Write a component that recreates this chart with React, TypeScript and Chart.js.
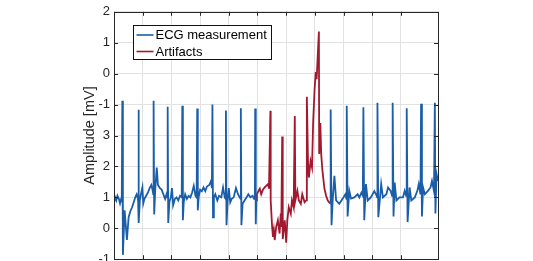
import React, { useEffect, useRef } from "react";
import { Chart, registerables } from "chart.js";

Chart.register(...registerables);

// Time axis (grid step = 1 unit), values in mV on the lower label scale
const ecgTime = [
  0.0, 0.04, 0.08, 0.12, 0.17, 0.21, 0.25, 0.27, 0.29, 0.31, 0.37, 0.45, 0.51, 0.57, 0.63, 0.69, 0.74, 0.79, 0.82, 0.84,
  0.85, 0.87, 0.9, 0.94, 0.99, 1.02, 1.06, 1.12, 1.18, 1.24, 1.3, 1.34, 1.37, 1.38, 1.4, 1.44, 1.49, 1.53, 1.6, 1.66,
  1.72, 1.78, 1.83, 1.86, 1.87, 1.89, 1.93, 1.98, 2.02, 2.06, 2.12, 2.18, 2.24, 2.3, 2.36, 2.38, 2.4, 2.43, 2.48, 2.54,
  2.6, 2.66, 2.72, 2.78, 2.84, 2.88, 2.9, 2.92, 2.95, 3.0, 3.06, 3.12, 3.18, 3.24, 3.32, 3.38, 3.41, 3.43, 3.45, 3.48,
  3.53, 3.6, 3.66, 3.74, 3.8, 3.86, 3.89, 3.9, 3.92, 3.96, 4.0, 4.05, 4.1, 4.17, 4.25, 4.32, 4.38, 4.41, 4.42, 4.44,
  4.48, 4.55, 4.62, 4.68, 4.75, 4.83, 4.88, 4.91, 4.92, 4.94, 4.96,
  5.5,
  7.53, 7.55, 7.58, 7.62, 7.68, 7.74, 7.85, 7.97, 8.06, 8.1, 8.11, 8.14, 8.2, 8.26, 8.37, 8.49, 8.55, 8.62, 8.67, 8.69,
  8.72, 8.78, 8.84, 8.95, 9.07, 9.13, 9.17, 9.18, 9.21, 9.31, 9.37, 9.49, 9.55, 9.64, 9.69, 9.71, 9.74, 9.78, 9.84, 9.95,
  10.07, 10.13, 10.18, 10.2, 10.23, 10.3, 10.36, 10.48, 10.57, 10.62, 10.68, 10.7, 10.73, 10.77, 10.83, 10.94, 11.03, 11.08, 11.15, 11.18,
  11.2, 11.24, 11.29,
];
const ecgValue = [
  0.85, 1.0, 0.9, 1.05, 0.95, 0.8, 0.95, 0.85, 4.12, -0.86, 0.58, -0.38, 0.36, 0.55, 0.68, 0.85, 1.0, 1.1, 1.0, 0.9,
  3.83, 0.17, 0.9, 1.1, 1.32, 0.8, 0.95, 1.05, 1.15, 1.3, 1.4, 1.25, 1.1, 4.12, 0.45, 1.3, 1.96, 1.4, 1.3, 1.25,
  1.1, 0.95, 1.1, 1.0, 3.93, 0.17, 0.85, 1.0, 1.3, 0.75, 0.95, 1.0, 0.9, 1.05, 1.0, 3.96, 0.26, 0.85, 1.1, 0.95,
  1.05, 1.0, 1.15, 1.37, 1.05, 1.0, 3.87, 0.58, 1.0, 1.25, 1.2, 1.32, 1.2, 1.35, 1.4, 1.53, 1.3, 4.0, 0.35, 1.0,
  1.1, 0.9, 1.05, 1.0, 1.32, 1.0, 0.95, 3.81, 0.1, 0.9, 1.3, 0.84, 0.95, 1.0, 1.3, 1.1, 1.0, 0.95, 3.88, 0.1,
  0.79, 0.9, 1.0, 1.1, 1.0, 1.05, 0.95, 1.0, 3.87, 0.13, 0.9,
  null,
  0.8, 3.84, 0.1, 0.9, 1.7, 0.9, 0.79, 0.96, 1.1, 0.95, 3.96, 0.38, 1.21, 0.96, 1.0, 1.1, 1.0, 1.15, 1.05, 3.91,
  0.26, 1.43, 0.9, 1.0, 1.2, 1.1, 1.0, 4.06, 0.36, 1.43, 1.0, 1.1, 1.32, 1.21, 1.05, 4.06, 0.38, 1.48, 0.9, 1.0,
  1.0, 1.21, 1.05, 3.88, 0.2, 1.32, 0.9, 1.0, 1.21, 1.43, 1.1, 4.03, 0.38, 1.32, 1.1, 1.21, 1.32, 1.53, 1.2, 4.06,
  0.48, 1.75, 1.53,
];

const artTime = [
  4.96, 4.98, 5.03, 5.08, 5.13, 5.19, 5.25, 5.31, 5.37, 5.4, 5.45, 5.46, 5.51, 5.54, 5.57, 5.6, 5.65, 5.71, 5.77, 5.81,
  5.83, 5.86, 5.88, 5.9, 5.95, 6.0, 6.04, 6.09, 6.16, 6.2, 6.26, 6.3, 6.32, 6.39, 6.44, 6.51, 6.56, 6.64, 6.7, 6.72,
  6.76, 6.79, 6.85, 6.9, 6.94, 6.99, 7.03, 7.06, 7.14, 7.15, 7.19, 7.22, 7.26, 7.33, 7.39, 7.45, 7.53,
];
const artValue = [
  0.9, 1.1, 1.2, 1.28, 1.1, 1.25, 1.32, 1.38, 1.43, 1.28, 3.8, 0.9, 0.04, -0.28, -0.06, -0.38, 0.04, 0.26, -0.17, 0.48,
  0.04, 2.97, -0.35, -0.17, 0.26, -0.47, 0.26, 0.68, 0.47, 0.9, 0.68, 3.63, 0.9, 1.21, 0.9, 0.79, 1.1, 0.84, 0.9, 4.25,
  2.17, 1.64, 2.17, 1.96, 3.45, 4.5, 5.05, 4.82, 6.36, 2.4, 3.4, 2.4, 1.9, 1.3, 1.05, 0.9, 0.8,
];

// Y tick labels as printed on the axis, bottom to top
const yTickLabels = ["-1", "0", "1", "2", "3", "-1", "0", "1", "2"];
const yMin = -1;
const yMax = 7;
const xMin = 0;
const xMax = 11.29;

const seriesNames = ["ECG measurement", "Artifacts"];
const seriesColors = ["#1a5da8", "#a2192f"];

const FONT = "'Liberation Sans', Arial, Helvetica, sans-serif";
const AXIS_COLOR = "#262626";

const framePlugin = {
  id: "frameTicks",
  afterDraw(chart: any) {
    const { ctx, chartArea } = chart;
    const { left, right, top, bottom } = chartArea;
    ctx.save();
    ctx.strokeStyle = AXIS_COLOR;
    ctx.lineWidth = 1;
    const xs = chart.scales.x;
    const ys = chart.scales.y;
    const tl = 4;
    ctx.beginPath();
    xs.ticks.forEach((t: any) => {
      const px = Math.round(xs.getPixelForValue(t.value)) + 0.5;
      ctx.moveTo(px, bottom);
      ctx.lineTo(px, bottom - tl);
      ctx.moveTo(px, top);
      ctx.lineTo(px, top + tl);
    });
    ys.ticks.forEach((t: any) => {
      const py = Math.round(ys.getPixelForValue(t.value)) + 0.5;
      ctx.moveTo(left, py);
      ctx.lineTo(left + tl, py);
      ctx.moveTo(right, py);
      ctx.lineTo(right - tl, py);
    });
    ctx.stroke();
    ctx.strokeRect(Math.round(left) + 0.5, Math.round(top) + 0.5, Math.round(right - left), Math.round(bottom - top));

    // legend box
    ctx.font = `13px ${FONT}`;
    const datasets = chart.data.datasets;
    let maxW = 0;
    datasets.forEach((d: any) => {
      maxW = Math.max(maxW, ctx.measureText(d.label).width);
    });
    const bx = Math.round(left) + 19.5;
    const by = Math.round(top) + 13.5;
    const lineLen = 17;
    const bw = Math.round(3 + lineLen + 2 + maxW + 5);
    const rowH = 16.5;
    const bh = 34;
    ctx.fillStyle = "#ffffff";
    ctx.fillRect(bx, by, bw, bh);
    ctx.strokeStyle = "#111111";
    ctx.strokeRect(bx, by, bw, bh);
    datasets.forEach((d: any, i: number) => {
      const cy = by + 9.5 + i * rowH;
      ctx.strokeStyle = d.borderColor;
      ctx.lineWidth = 1.6;
      ctx.beginPath();
      ctx.moveTo(bx + 3, cy);
      ctx.lineTo(bx + 3 + lineLen, cy);
      ctx.stroke();
      ctx.fillStyle = "#000000";
      ctx.textBaseline = "middle";
      ctx.textAlign = "left";
      ctx.fillText(d.label, bx + 3 + lineLen + 2, cy + 0.5);
    });
    ctx.restore();
  },
};

export default function App() {
  const ref = useRef<HTMLCanvasElement | null>(null);

  useEffect(() => {
    if (!ref.current) return;
    const ecgPoints = ecgTime.map((t, i) => ({ x: t, y: ecgValue[i] }));
    const artPoints = artTime.map((t, i) => ({ x: t, y: artValue[i] }));
    const chart = new Chart(ref.current, {
      type: "line",
      data: {
        datasets: [
          {
            label: seriesNames[0],
            data: ecgPoints as any,
            borderColor: seriesColors[0],
            borderWidth: 1.8,
            pointRadius: 0,
            tension: 0,
            spanGaps: false,
          },
          {
            label: seriesNames[1],
            data: artPoints as any,
            borderColor: seriesColors[1],
            borderWidth: 1.8,
            pointRadius: 0,
            tension: 0,
          },
        ],
      },
      options: {
        animation: false,
        responsive: false,
        maintainAspectRatio: false,
        layout: { padding: { left: 0, right: 95, top: 10, bottom: 0 } },
        plugins: {
          legend: { display: false },
          tooltip: { enabled: false },
        },
        scales: {
          x: {
            type: "linear",
            min: xMin,
            max: xMax,
            ticks: { display: false, stepSize: 1 },
            grid: { color: "#e2e2e2", drawTicks: false, lineWidth: 1 },
            border: { display: false },
            afterFit: (s: any) => {
              s.height = 1;
            },
          },
          y: {
            type: "linear",
            min: yMin,
            max: yMax,
            ticks: {
              stepSize: 1,
              padding: 4,
              color: AXIS_COLOR,
              font: { family: FONT, size: 13 },
              callback: (v: any) => yTickLabels[Math.round(Number(v) - yMin)] ?? "",
            },
            grid: { color: "#e2e2e2", drawTicks: false, lineWidth: 1 },
            border: { display: false },
            title: {
              display: true,
              text: "Amplitude [mV]",
              color: AXIS_COLOR,
              font: { family: FONT, size: 14.5 },
              padding: { top: 81, bottom: 0 },
            },
            afterFit: (s: any) => {
              s.width = 114;
            },
          },
        },
      },
      plugins: [framePlugin],
    });
    return () => chart.destroy();
  }, []);

  return (
    <div style={{ position: "fixed", left: 0, top: 0, width: 533, height: 261, overflow: "hidden", background: "#fff" }}>
      <canvas ref={ref} width={533} height={271} style={{ display: "block" }} />
    </div>
  );
}
